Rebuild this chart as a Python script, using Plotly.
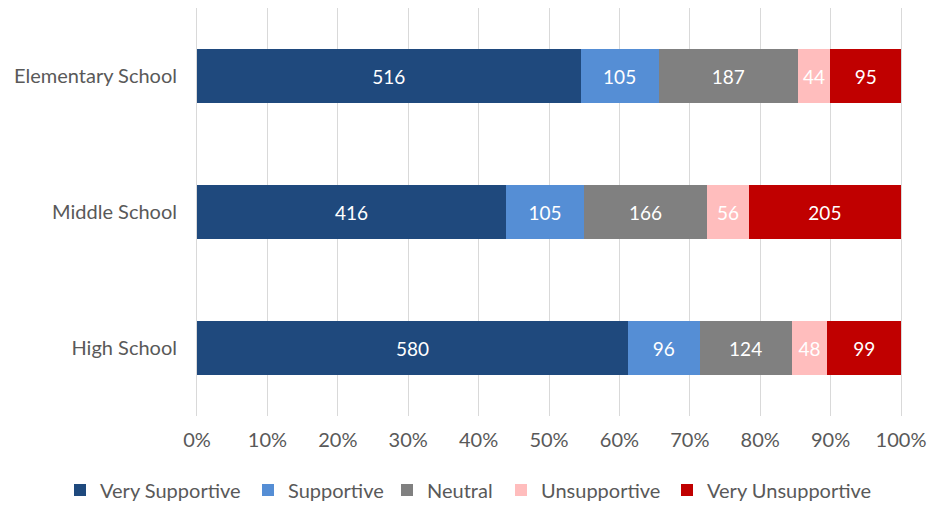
import plotly.graph_objects as go

categories = ["Elementary School", "Middle School", "High School"]
series_names = ["Very Supportive", "Supportive", "Neutral", "Unsupportive", "Very Unsupportive"]
very_supportive = [516, 416, 580]
supportive = [105, 105, 96]
neutral = [187, 166, 124]
unsupportive = [44, 56, 48]
very_unsupportive = [95, 205, 99]
tick_vals = [0, 10, 20, 30, 40, 50, 60, 70, 80, 90, 100]
tick_text = ["0%", "10%", "20%", "30%", "40%", "50%", "60%", "70%", "80%", "90%", "100%"]

colors = ["#1F497D", "#558ED5", "#808080", "#FFBDBD", "#C00000"]
values = [very_supportive, supportive, neutral, unsupportive, very_unsupportive]

W, H = 936, 497  # page adds an 8px body margin
legend_text_x = [92, 280, 419, 533, 699]  # where each legend label starts (figure px)

fig = go.Figure()
legend_layouts = {}
for i, (name, vals, col) in enumerate(zip(series_names, values, colors)):
    lname = "legend" if i == 0 else f"legend{i + 1}"
    fig.add_trace(go.Bar(
        y=categories, x=vals, name=name, orientation="h",
        marker=dict(color=col, line=dict(width=0)),
        text=[str(v) for v in vals], textposition="inside",
        insidetextanchor="middle", textangle=0,
        textfont=dict(color="white", size=19, family="Lato"),
        hoverinfo="skip", legend=lname,
    ))
    legend_layouts[lname] = dict(
        orientation="h", xref="container", yref="container",
        x=(legend_text_x[i] - 40) / W, xanchor="left",
        y=1 - 482 / H, yanchor="middle",
        font=dict(size=20, color="#595959"), bgcolor="rgba(0,0,0,0)",
    )

fig.update_layout(
    barmode="stack", barnorm="percent", bargap=0.6,
    width=W, height=H,
    margin=dict(l=189, r=43, t=0, b=89, autoexpand=False),
    plot_bgcolor="white", paper_bgcolor="white",
    font=dict(family="Lato", size=20, color="#595959"),
    uniformtext=dict(minsize=19, mode="show"),
    showlegend=True,
    **legend_layouts,
)
fig.update_xaxes(range=[0, 100], tickvals=tick_vals, ticktext=tick_text,
                 showgrid=True, gridcolor="#D9D9D9", gridwidth=1,
                 zeroline=False, showline=False, ticklabelstandoff=10,
                 layer="below traces", fixedrange=True)
fig.update_yaxes(categoryorder="array", categoryarray=categories[::-1],
                 showgrid=False, zeroline=False,
                 showline=True, mirror=True, linecolor="#D9D9D9", linewidth=1,
                 layer="below traces",
                 ticklabelstandoff=15, fixedrange=True)

fig.write_html("out.html")
